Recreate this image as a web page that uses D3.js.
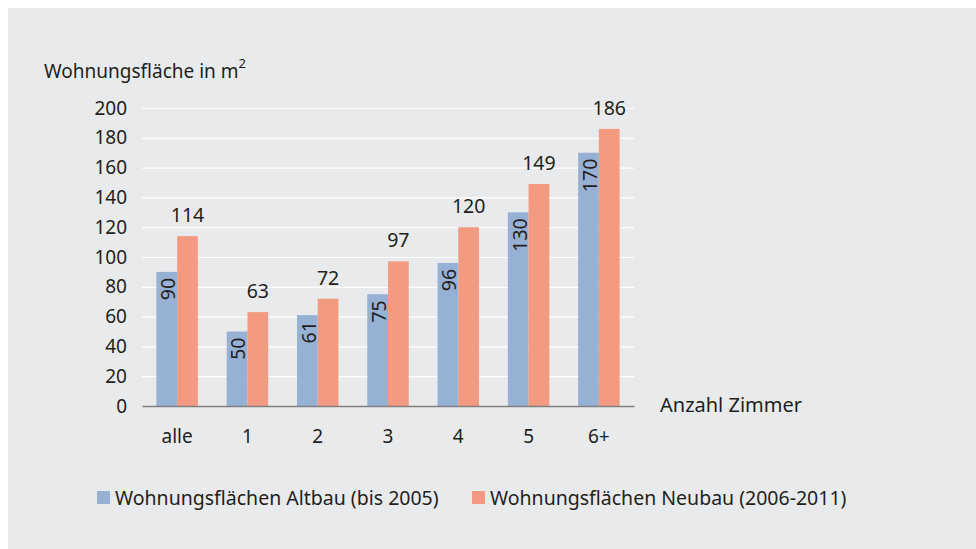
<!DOCTYPE html>
<html>
<head>
<meta charset="utf-8">
<script src="https://cdn.jsdelivr.net/npm/d3@7"></script>
<style>
  body { margin: 0; background: #fff; }
  svg text { font-family: "Noto Sans", "Open Sans", sans-serif; fill: #231f20; }
</style>
</head>
<body>
<svg id="chart"></svg>
<script>
const categories = ['alle', '1', '2', '3', '4', '5', '6+'];
const altbau = [90, 50, 61, 75, 96, 130, 170];
const neubau = [114, 63, 72, 97, 120, 149, 186];
const seriesNames = ['Wohnungsflächen Altbau (bis 2005)', 'Wohnungsflächen Neubau (2006-2011)'];
const yTicks = [0, 20, 40, 60, 80, 100, 120, 140, 160, 180, 200];

const WIDTH = 976;
const HEIGHT = 549;
const MARGIN = { top: 108, left: 142, right: 342, bottom: 143 };
const INNER_WIDTH = WIDTH - MARGIN.left - MARGIN.right;
const INNER_HEIGHT = HEIGHT - MARGIN.top - MARGIN.bottom;
const COLORS = ['#97b1d4', '#f39a81'];
const FONT = '"Noto Sans", sans-serif';

const svg = d3.select('#chart')
    .attr('width', WIDTH)
    .attr('height', HEIGHT);

// panel background
svg.append('rect')
    .attr('x', 8).attr('y', 8)
    .attr('width', WIDTH - 8).attr('height', HEIGHT - 8)
    .attr('fill', '#e9eaec');

const g = svg.append('g')
    .attr('transform', 'translate(' + MARGIN.left + ',' + MARGIN.top + ')');

const x0 = d3.scaleBand()
    .domain(categories)
    .range([0, INNER_WIDTH])
    .paddingInner(0.41)
    .paddingOuter(0.205);
const x1 = d3.scaleBand()
    .domain([0, 1])
    .range([0, x0.bandwidth()]);
const y = d3.scaleLinear()
    .domain([0, 200])
    .range([INNER_HEIGHT, 0]);

// grid
g.append('g')
    .call(d3.axisLeft(y).tickValues(yTicks).tickSize(-INNER_WIDTH).tickFormat(''))
    .call(s => s.select('.domain').remove())
    .call(s => s.selectAll('line').attr('stroke', '#fff').attr('stroke-width', 1.2));

// y tick labels
g.append('g')
    .call(d3.axisLeft(y).tickValues(yTicks).tickSize(0).tickPadding(15))
    .call(s => s.select('.domain').remove())
    .call(s => s.selectAll('text').attr('font-size', 19).style('font-family', FONT).attr('fill', '#231f20'));

const groups = g.selectAll('.grp')
    .data(categories)
    .join('g')
    .attr('class', 'grp')
    .attr('transform', d => 'translate(' + x0(d) + ',0)');

[altbau, neubau].forEach((vals, si) => {
    groups.append('rect')
        .attr('x', x1(si))
        .attr('y', (d, i) => y(vals[i]))
        .attr('width', x1.bandwidth())
        .attr('height', (d, i) => INNER_HEIGHT - y(vals[i]))
        .attr('fill', COLORS[si]);
});

// Altbau labels, rotated inside bar
groups.append('text')
    .attr('transform', (d, i) => 'translate(' + (x1(0) + x1.bandwidth() - 2) + ',' + (y(altbau[i]) + 6) + ') rotate(-90)')
    .attr('text-anchor', 'end')
    .attr('font-size', 19.5)
    .text((d, i) => altbau[i]);

// Neubau labels, above bar
groups.append('text')
    .attr('x', x1(1) + x1.bandwidth() / 2)
    .attr('y', (d, i) => y(neubau[i]) - 14)
    .attr('text-anchor', 'middle')
    .attr('font-size', 19.5)
    .text((d, i) => neubau[i]);

// baseline + category labels
g.append('g')
    .attr('transform', 'translate(0,' + INNER_HEIGHT + ')')
    .call(d3.axisBottom(x0).tickSize(0).tickPadding(24))
    .call(s => s.select('.domain').attr('stroke', '#808080').attr('stroke-width', 1.5))
    .call(s => s.selectAll('text').attr('font-size', 19).style('font-family', FONT).attr('fill', '#231f20'));

// axis titles
const yTitle = svg.append('text')
    .attr('x', 44).attr('y', 78)
    .attr('font-size', 19);
yTitle.append('tspan').text('Wohnungsfläche in m');
yTitle.append('tspan').attr('dy', -10).attr('font-size', 13).text('2');

svg.append('text')
    .attr('x', 660).attr('y', MARGIN.top + INNER_HEIGHT + 6)
    .attr('font-size', 20)
    .text('Anzahl Zimmer');

// legend
const legendX = [97, 472];
const legend = svg.selectAll('.leg')
    .data(seriesNames)
    .join('g')
    .attr('class', 'leg')
    .attr('transform', (d, i) => 'translate(' + legendX[i] + ',491)');
legend.append('rect')
    .attr('width', 13).attr('height', 13)
    .attr('fill', (d, i) => COLORS[i]);
legend.append('text')
    .attr('x', 18).attr('y', 14)
    .attr('font-size', 19.5)
    .text(d => d);
</script>
</body>
</html>
